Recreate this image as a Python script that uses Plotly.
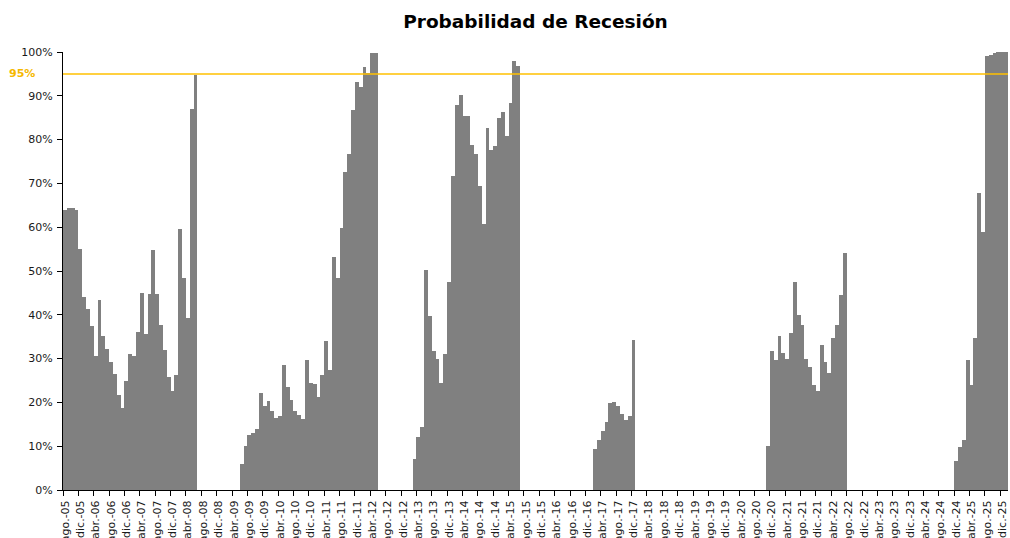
import plotly.graph_objects as go
import pandas as pd
import numpy as np

# Meses en castellano para las etiquetas del eje
meses = ['ene.', 'feb.', 'mar.', 'abr.', 'may.', 'jun.',
         'jul.', 'ago.', 'sep.', 'oct.', 'nov.', 'dic.']

inicio = '2005-08'
fin = '2026-01'
umbral = 95

# Probabilidad de recesion (%) por episodio, mensual desde el mes indicado
ep1_inicio = '2005-08'
ep1 = [64.0, 64.3, 64.3, 64.0, 55.0, 44.1, 41.3, 37.5, 30.5, 43.4,
       35.2, 32.3, 29.3, 26.4, 21.8, 18.8, 24.8, 31.1, 30.5, 36.0,
       45.0, 35.7, 44.8, 54.7, 44.8, 37.7, 32.0, 25.9, 22.6, 26.2,
       59.5, 48.3, 39.2, 86.9, 94.7]

ep2_inicio = '2009-06'
ep2 = [5.9, 10.1, 12.5, 13.0, 13.9, 22.1, 19.1, 20.4, 18.0, 16.5,
       16.9, 28.5, 23.6, 20.6, 18.1, 17.2, 16.2, 29.7, 24.5, 24.1,
       21.2, 26.2, 34.0, 27.4, 53.2, 48.3, 59.8, 72.7, 76.7, 86.7,
       93.1, 91.9, 96.6, 95.1, 99.7, 99.7]

ep3_inicio = '2013-03'
ep3 = [7.0, 12.0, 14.3, 50.2, 39.8, 31.7, 30.0, 24.4, 31.1, 47.6,
       71.8, 88.0, 90.2, 85.4, 85.4, 78.8, 76.8, 69.5, 60.7, 82.6,
       77.7, 78.5, 84.9, 86.4, 80.9, 88.4, 97.9, 96.9]

ep4_inicio = '2017-02'
ep4 = [9.3, 11.4, 13.4, 15.5, 19.8, 20.0, 19.2, 17.4, 15.9, 16.9, 34.3]

ep5_inicio = '2020-11'
ep5 = [10.1, 31.7, 29.7, 35.2, 31.3, 29.9, 35.8, 47.6, 39.9, 37.7,
       30.0, 28.0, 23.9, 22.6, 33.2, 29.3, 26.8, 34.8, 37.7, 44.5, 54.1]

ep6_inicio = '2024-12'
ep6 = [6.6, 9.8, 11.4, 29.6, 23.9, 34.8, 67.8, 58.8, 99.1, 99.4,
       99.7, 100.0, 100.0, 100.0]

episodios = [(ep1_inicio, ep1), (ep2_inicio, ep2), (ep3_inicio, ep3),
             (ep4_inicio, ep4), (ep5_inicio, ep5), (ep6_inicio, ep6)]

# Serie mensual completa (meses sin dato quedan vacios)
fechas = pd.period_range(inicio, fin, freq='M')
prob = pd.Series(np.nan, index=fechas)
for ini, vals in episodios:
    prob[pd.period_range(ini, periods=len(vals), freq='M')] = vals

n = len(fechas)
x = np.arange(n) + 0.5
y = [None if np.isnan(v) else v for v in prob.values]

tick_pos = list(range(0, n, 4))
tick_txt = [f"{meses[fechas[i].month - 1]}-{fechas[i].year % 100:02d}" for i in tick_pos]

fig = go.Figure()

fig.add_trace(go.Bar(
    x=x,
    y=y,
    marker_color='#808080',
    marker_line_width=0,
    hovertemplate='%{y:.1f}%<extra></extra>'
))

# Linea de umbral 95%
fig.add_trace(go.Scatter(
    x=[0, n],
    y=[umbral, umbral],
    mode='lines',
    line=dict(color='#FFC000', width=1.5),
    hoverinfo='skip'
))

fig.add_annotation(
    xref='paper', yref='y',
    x=-0.028, y=umbral,
    xanchor='right', yanchor='middle',
    text=f'<b>{umbral}%</b>',
    showarrow=False,
    font=dict(family='DejaVu Sans', size=11, color='#F5B800')
)

fig.update_layout(
    width=1010,
    height=538,
    margin=dict(l=63, r=2, t=52, b=48, autoexpand=False),
    paper_bgcolor='white',
    plot_bgcolor='white',
    showlegend=False,
    bargap=0,
    font=dict(family='DejaVu Sans', size=11, color='#1a1a1a'),
    title=dict(
        text='<b>Probabilidad de Recesión</b>',
        x=0.5, xref='paper',
        y=1 - 22 / 538, yref='container', yanchor='middle',
        automargin=False,
        font=dict(family='DejaVu Sans', size=18.5, color='black')
    ),
    xaxis=dict(
        range=[0, n],
        automargin=False,
        tickmode='array',
        tickvals=tick_pos,
        ticktext=tick_txt,
        tickangle=-90,
        ticks='outside',
        ticklen=5,
        tickcolor='black',
        ticklabelshift=2,
        showline=True,
        linecolor='black',
        linewidth=1,
        showgrid=False,
        zeroline=False,
        tickfont=dict(size=11)
    ),
    yaxis=dict(
        range=[0, 100],
        automargin=False,
        tickmode='linear',
        tick0=0,
        dtick=10,
        ticksuffix='%',
        ticks='outside',
        ticklen=5,
        tickcolor='black',
        ticklabelstandoff=2,
        showline=True,
        linecolor='black',
        linewidth=1,
        showgrid=False,
        zeroline=False,
        tickfont=dict(size=11)
    )
)

# sin margen en la pagina, para que la figura ocupe la ventana entera
fig.write_html("out.html",
               config={'displayModeBar': False},
               post_script="document.body.style.margin='0';document.body.style.overflow='hidden';")
